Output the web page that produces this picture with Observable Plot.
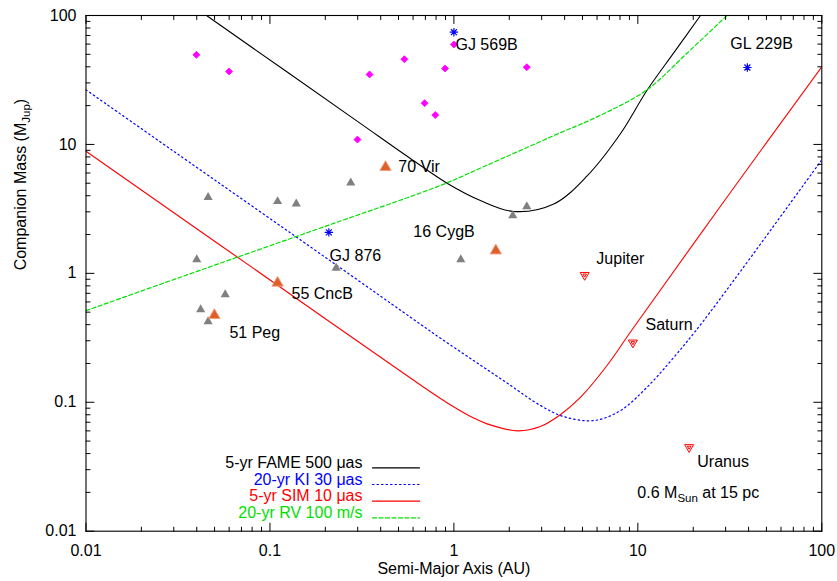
<!DOCTYPE html>
<html><head><meta charset="utf-8">
<script src="https://cdn.jsdelivr.net/npm/d3@7"></script>
<script src="https://cdn.jsdelivr.net/npm/@observablehq/plot@0.6"></script>
<style>body{margin:0;background:#fff;}</style>
</head><body><div id="chart"></div>
<script>
// ---- axis ticks ----
const xTicks = [0.01, 0.1, 1, 10, 100];
const xTickLabels = ["0.01", "0.1", "1", "10", "100"];
const yTicks = [0.01, 0.1, 1, 10, 100];
const yTickLabels = ["0.01", "0.1", "1", "10", "100"];
const minorMultipliers = [2, 3, 4, 5, 6, 7, 8, 9];

// ---- detection curves (semi-major axis AU, mass MJup) ----
const fameA = [0.0452, 0.299, 0.58, 0.918, 1.393, 2.11, 3.49, 5.30, 8.04, 11.2, 15.7, 21.9];
const fameM = [100, 15.1, 7.78, 5.0, 3.67, 3.02, 3.45, 5.7, 12.1, 26.2, 51.5, 100];
const kiA = [0.01, 0.0298, 0.213, 0.658, 0.845, 1.28, 1.945, 2.95, 3.95, 5.75, 8.04, 11.2, 15.7, 22.8, 100];
const kiM = [26.5, 8.9, 1.25, 0.403, 0.314, 0.2107, 0.141, 0.0945, 0.0775, 0.0721, 0.0862, 0.1306, 0.2234, 0.430, 7.6];
const simA = [0.01, 0.213, 0.658, 0.845, 1.0, 1.28, 1.515, 2.22, 2.95, 3.79, 4.87, 6.80, 9.3, 30.5, 100];
const simM = [8.86, 0.418, 0.136, 0.107, 0.092, 0.0755, 0.068, 0.060, 0.0648, 0.080, 0.109, 0.193, 0.365, 3.89, 40];
const rvA = [0.01, 0.0326, 0.213, 0.658, 0.918, 1.515, 3.49, 6.25, 11.2, 18.5, 30.5];
const rvM = [0.514, 0.933, 2.39, 4.2, 5.04, 6.9, 11.7, 16.8, 26.5, 51, 100];

// ---- objects ----
const bdA = [0.0398, 0.060, 0.299, 0.348, 0.538, 0.693, 0.792, 0.895, 1.0, 2.49];
const bdM = [49.5, 36.8, 10.9, 34.9, 45.8, 20.9, 16.9, 38.8, 59.6, 39.7];
const planetA = [0.0461, 0.110, 0.139, 0.275, 2.49, 2.09, 1.09, 0.040, 0.229, 0.0571, 0.042, 0.0461];
const planetM = [3.89, 3.61, 3.46, 5.04, 3.30, 2.81, 1.28, 1.28, 1.10, 0.685, 0.524, 0.423];
const namedA = [0.425, 1.69, 0.110, 0.0499];
const namedM = [6.65, 1.50, 0.843, 0.473];
const starA = [1.0, 0.209, 39.4];
const starM = [74.2, 2.08, 39.5];
const solarA = [5.14, 9.4, 19.0];
const solarM = [0.97, 0.29, 0.0448];

// ---- annotations ----
const labelNames = ["GJ 569B", "GL 229B", "70 Vir", "GJ 876", "16 CygB", "55 CncB", "51 Peg", "Jupiter", "Saturn", "Uranus", "0.6 M_{Sun} at 15 pc"];
const labelA = [1.02, 31.8, 0.499, 0.211, 0.602, 0.131, 0.0602, 5.95, 11.0, 21.05, 9.94];
const labelM = [59.6, 60.6, 6.65, 1.374, 2.08, 0.697, 0.343, 1.30, 0.40, 0.0342, 0.020];

// ---- legend ----
const legendLabels = ["5-yr FAME 500 μas", "20-yr KI 30 μas", "5-yr SIM 10 μas", "20-yr RV 100 m/s"];
const legendColors = ["#000000", "#0000ff", "#ff0000", "#00e000"];
const legendDash = [null, "1.5,3", null, "4,2.5"];

const xTitle = "Semi-Major Axis (AU)";
const yTitle = "Companion Mass (M_{Jup})";

// ---- build tables ----
const zip = (A, M) => A.map((a, i) => ({a, m: M[i]}));
const minorOf = (majors) => majors.slice(0, -1).flatMap(d => minorMultipliers.map(k => d * k));
const xMinor = minorOf(xTicks), yMinor = minorOf(yTicks);

const tickShape = {draw(ctx, l) { ctx.moveTo(0, 0); ctx.lineTo(0, -l); }};
const lineShape = {draw(ctx, l) { ctx.moveTo(0, 0); ctx.lineTo(0, -l); }};
const star8 = {draw(ctx, size) {
  const r = Math.sqrt(size / Math.PI), d = r * Math.SQRT1_2;
  ctx.moveTo(-r, 0); ctx.lineTo(r, 0); ctx.moveTo(0, -r); ctx.lineTo(0, r);
  ctx.moveTo(-d, -d); ctx.lineTo(d, d); ctx.moveTo(-d, d); ctx.lineTo(d, -d);
}};
const triDown = {draw(ctx, size) {
  const r = Math.sqrt(size / Math.PI);
  for (const s of [2 * r, 0.8 * r]) {
    const h = s * Math.sqrt(3) / 2;
    ctx.moveTo(-s / 2, -h / 3); ctx.lineTo(s / 2, -h / 3); ctx.lineTo(0, 2 * h / 3); ctx.closePath();
  }
}};
const diamondSq = {draw(ctx, size) {
  const r = Math.sqrt(size / Math.PI);
  ctx.moveTo(0, -r); ctx.lineTo(r, 0); ctx.lineTo(0, r); ctx.lineTo(-r, 0); ctx.closePath();
}};

function ticks(values, channel, frameAnchor, rotate, length) {
  return Plot.vector(values, {[channel]: d => d, frameAnchor, rotate, length, anchor: "start", shape: tickShape, stroke: "black", strokeWidth: 1});
}

const curve = "catmull-rom";
const marks = [
  Plot.line(zip(fameA, fameM), {x: "a", y: "m", stroke: "#000000", strokeWidth: 1.1, curve, clip: true}),
  Plot.line(zip(kiA, kiM), {x: "a", y: "m", stroke: "#0000ff", strokeWidth: 1.2, strokeDasharray: "1.5,3", curve, clip: true}),
  Plot.line(zip(simA, simM), {x: "a", y: "m", stroke: "#ff0000", strokeWidth: 1.1, curve, clip: true}),
  Plot.line(zip(rvA, rvM), {x: "a", y: "m", stroke: "#00e000", strokeWidth: 1.2, strokeDasharray: "4,2.5", curve, clip: true}),
  Plot.dot(zip(bdA, bdM), {x: "a", y: "m", symbol: diamondSq, r: 3.5, fill: "#ff00ff", stroke: "#ff00ff", strokeWidth: 0.8, strokeLinejoin: "round"}),
  Plot.dot(zip(planetA, planetM), {x: "a", y: "m", symbol: "triangle", r: 3.4, fill: "#808080", stroke: "none"}),
  Plot.dot(zip(namedA, namedM), {x: "a", y: "m", symbol: "triangle", r: 4.2, fill: "#dd5f2c", stroke: "#f3a07c", strokeWidth: 1}),
  Plot.dot(zip(starA, starM), {x: "a", y: "m", symbol: star8, r: 4.2, fill: "none", stroke: "#0000ff", strokeWidth: 1.2}),
  Plot.dot(zip(solarA, solarM), {x: "a", y: "m", symbol: triDown, r: 4.5, fill: "none", stroke: "#ff0000", strokeWidth: 1}),
  Plot.text(labelNames.map((t, i) => ({t, a: labelA[i], m: labelM[i]})), {x: "a", y: "m", text: "t", textAnchor: "start", fill: "black", fontSize: 16}),
  // legend
  ...legendLabels.map((t, i) => Plot.text([t], {text: d => d, frameAnchor: "bottom-left", dx: 276.5, dy: -63.4 + i * 16.7, textAnchor: "end", fill: legendColors[i], fontSize: 16})),
  ...legendLabels.map((t, i) => Plot.vector([t], {frameAnchor: "bottom-left", dx: 286.5, dy: -63.4 + i * 16.7, rotate: 90, length: 47, anchor: "start", shape: lineShape, stroke: legendColors[i], strokeWidth: 1.2, strokeDasharray: legendDash[i]})),
  // ticks
  ticks(xTicks, "x", "bottom", 0, 8), ticks(xMinor, "x", "bottom", 0, 4),
  ticks(xTicks, "x", "top", 180, 8), ticks(xMinor, "x", "top", 180, 4),
  ticks(yTicks, "y", "left", 90, 8), ticks(yMinor, "y", "left", 90, 4),
  ticks(yTicks, "y", "right", -90, 8), ticks(yMinor, "y", "right", -90, 4),
  Plot.axisX({ticks: xTicks, tickSize: 0, tickPadding: 13, tickFormat: (d) => xTickLabels[xTicks.indexOf(d)], fontSize: 16, label: null}),
  Plot.axisY({ticks: yTicks, tickSize: 0, tickPadding: 9.5, tickFormat: (d) => yTickLabels[yTicks.indexOf(d)], fontSize: 16, label: null}),
  Plot.text([xTitle], {text: d => d, frameAnchor: "bottom", dy: 42.6, fontSize: 16, fill: "black"}),
  Plot.text([yTitle], {text: d => d, frameAnchor: "left", dx: -65.5, dy: -3, rotate: -90, fontSize: 16, fill: "black"}),
  Plot.frame({stroke: "black", strokeWidth: 1.1})
];

const chart = Plot.plot({
  width: 837, height: 581,
  marginLeft: 85.5, marginRight: 15.7, marginTop: 15, marginBottom: 50.3,
  style: {fontFamily: "'Liberation Sans', Arial, sans-serif", fontSize: "16px", background: "white", color: "black"},
  x: {type: "log", domain: [0.01, 100]},
  y: {type: "log", domain: [0.01, 100]},
  marks
});

// subscripts
d3.select(chart).selectAll("text").each(function() {
  const t = this.textContent;
  const m = t.match(/^(.*)_\{(.+?)\}(.*)$/);
  if (!m) return;
  const sel = d3.select(this);
  sel.text(null);
  sel.append("tspan").text(m[1]);
  sel.append("tspan").attr("font-size", "11.5px").attr("dy", "4").text(m[2]);
  sel.append("tspan").attr("dy", "-4").text(m[3]);
});

document.getElementById("chart").appendChild(chart);
</script>
</body></html>
